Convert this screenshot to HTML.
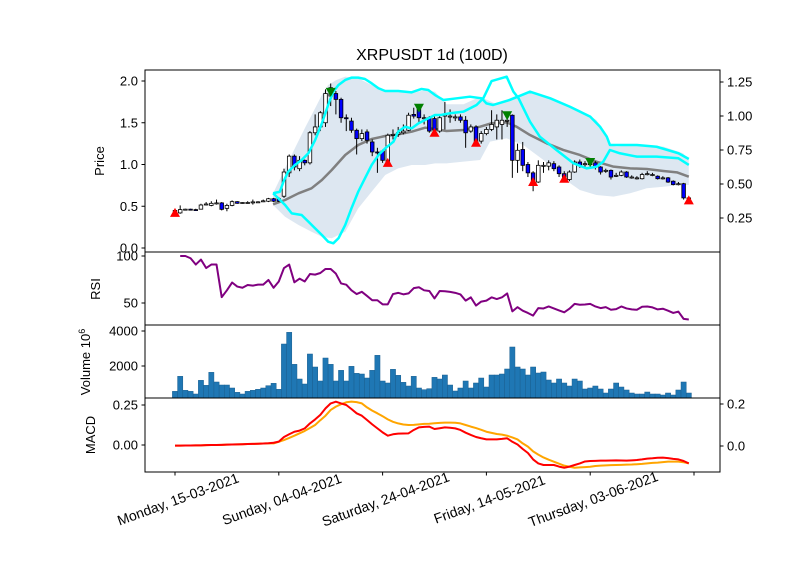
<!DOCTYPE html>
<html><head><meta charset="utf-8">
<style>
html,body{margin:0;padding:0;background:#fff;}
svg{display:block;font-family:"Liberation Sans",sans-serif;}
</style></head>
<body>
<svg id="chart" width="800" height="575" viewBox="0 0 800 575" xmlns="http://www.w3.org/2000/svg">
<defs>
<clipPath id="cpMain"><rect x="145" y="70" width="575" height="182"/></clipPath>
<clipPath id="cpVol"><rect x="145" y="325" width="575" height="73"/></clipPath>
<clipPath id="cpMacd"><rect x="145" y="398" width="575" height="74"/></clipPath>
</defs>
<rect x="0" y="0" width="800" height="575" fill="#fff"/>
<text x="432" y="60" font-size="16" text-anchor="middle">XRPUSDT 1d (100D)</text>
<g id="gMain" clip-path="url(#cpMain)"></g>
<g id="gRsi"></g>
<g id="gVol" clip-path="url(#cpVol)"></g>
<g id="gMacd" clip-path="url(#cpMacd)"></g>
<g id="gAxes"></g>
</svg>
<script>
// ---- data ----
const dates = ["Monday, 15-03-2021","Sunday, 04-04-2021","Saturday, 24-04-2021","Friday, 14-05-2021","Thursday, 03-06-2021",""];
const opens  = [0.44,0.42,0.46,0.465,0.46,0.465,0.52,0.51,0.535,0.54,0.475,0.51,0.555,0.54,0.543,0.55,0.55,0.563,0.56,0.59,
0.59,0.62,0.9,1.1,0.95,1.05,1.02,1.38,1.45,1.5,1.82,1.85,1.78,1.56,1.52,1.41,1.31,1.39,1.27,1.15,
1.16,1.04,1.35,1.36,1.38,1.41,1.6,1.67,1.56,1.56,1.55,1.4,1.58,1.57,1.57,1.57,1.53,1.4,1.45,1.28,
1.37,1.42,1.45,1.48,1.52,1.59,1.05,1.18,1.0,0.9,0.79,0.98,0.98,1.01,0.97,0.89,0.82,0.91,1.03,1.0,
1.01,1.02,0.97,0.93,0.93,0.87,0.87,0.91,0.85,0.84,0.83,0.89,0.88,0.86,0.84,0.84,0.8,0.77,0.77,0.6];
const closes = [0.45,0.46,0.465,0.46,0.455,0.515,0.527,0.535,0.54,0.463,0.51,0.555,0.535,0.545,0.545,0.552,0.553,0.565,0.59,0.56,
0.56,0.91,1.1,0.97,1.05,1.02,1.38,1.45,1.62,1.85,1.92,1.78,1.56,1.55,1.41,1.31,1.37,1.29,1.15,1.14,
1.05,1.35,1.36,1.38,1.4,1.59,1.58,1.56,1.56,1.4,1.41,1.56,1.6,1.58,1.57,1.53,1.38,1.45,1.27,1.37,
1.42,1.48,1.53,1.53,1.53,1.05,1.17,0.99,0.9,0.78,0.99,0.99,1.02,0.95,0.89,0.81,0.91,1.03,0.99,1.01,
1.0,0.97,0.91,0.93,0.85,0.87,0.91,0.85,0.85,0.84,0.88,0.89,0.88,0.83,0.84,0.79,0.76,0.77,0.6,0.59];
const highs  = [0.47,0.51,0.47,0.47,0.47,0.53,0.55,0.56,0.58,0.55,0.53,0.57,0.56,0.55,0.56,0.58,0.56,0.58,0.6,0.6,
0.61,0.95,1.12,1.12,1.1,1.06,1.4,1.6,1.64,1.9,1.97,1.88,1.8,1.6,1.56,1.43,1.42,1.42,1.3,1.2,
1.18,1.37,1.42,1.45,1.48,1.62,1.68,1.7,1.6,1.58,1.6,1.6,1.75,1.66,1.6,1.6,1.58,1.48,1.47,1.4,
1.45,1.65,1.6,1.65,1.6,1.6,1.25,1.27,1.03,0.92,1.05,1.03,1.05,1.04,0.99,0.92,0.93,1.05,1.06,1.04,
1.05,1.04,0.98,0.95,0.94,0.9,0.93,0.92,0.87,0.86,0.9,0.92,0.9,0.87,0.86,0.85,0.81,0.79,0.78,0.61];
const lows   = [0.42,0.41,0.455,0.45,0.45,0.46,0.51,0.5,0.52,0.45,0.44,0.5,0.53,0.53,0.53,0.52,0.54,0.55,0.55,0.55,
0.55,0.6,0.85,0.93,0.92,0.99,1.0,1.35,1.4,1.45,1.7,1.6,1.5,1.4,1.38,1.12,1.28,1.25,1.1,0.9,
1.02,1.02,1.3,1.33,1.36,1.4,1.55,1.5,1.48,1.38,1.38,1.38,1.42,1.5,1.52,1.5,1.2,1.38,1.23,1.25,
1.35,1.4,1.3,1.3,1.45,0.84,0.9,0.92,0.85,0.68,0.78,0.9,0.93,0.92,0.85,0.8,0.8,0.9,0.96,0.97,
0.97,0.94,0.88,0.9,0.82,0.85,0.86,0.84,0.83,0.82,0.82,0.87,0.86,0.82,0.82,0.78,0.75,0.75,0.58,0.57];
const volumes = [552,1410,610,552,400,1181,895,1638,1086,914,914,743,495,400,552,610,667,743,876,1010,
667,3257,3924,2095,1257,971,2686,1943,1143,2457,2095,1143,1752,1143,1981,1581,1543,1314,1752,2610,
1143,1029,1810,1467,1067,857,1410,743,648,705,1352,1257,1486,914,571,743,1143,743,1029,1314,
800,1486,1486,1543,1829,3086,1943,1829,1486,1943,1600,1657,1200,1029,1257,1029,857,1257,1143,686,
743,857,686,457,686,1029,800,629,457,400,400,514,400,400,343,457,343,629,1086,457];
const rsiStart = 1;
const rsiValues = [100,100,97.6,90.9,96.2,87.2,90.9,90.9,56.2,63.5,71.8,67.5,66.2,69.2,68.5,69.5,69.5,74.5,66.2,72.9,
87.2,90.9,72.0,75.9,72.9,80.8,80.2,81.9,86.2,86.2,81.2,70.8,69.5,63.5,59.5,61.9,57.5,52.9,52.9,48.6,
48.6,59.5,60.8,59.2,60.2,65.8,66.8,63.5,
62.8,54.9,62.8,62.5,61.8,60.8,59.1,52.5,56,47.3,51.5,52.5,56,54.2,56,60.2,41.1,45.6,41.8,39.4,
36.6,44.6,44.2,46.3,44.2,42.1,40.1,43.9,49.1,48.1,48.4,49.1,46.3,44.6,45.6,42.8,43.5,46.3,44.2,43.2,
42.8,46,46.3,45.3,43.2,43.9,41.8,39.4,40.8,33.1,32.5];
const macdValues = [-0.004,-0.004,-0.003,-0.003,-0.002,-0.002,-0.001,0,0,0.001,0.002,0.003,0.004,0.005,0.006,0.007,0.008,0.009,0.011,0.014,
0.021,0.05,0.067,0.083,0.09,0.104,0.135,0.16,0.188,0.229,0.26,0.271,0.26,0.25,0.225,0.198,0.183,0.156,0.129,0.104,
0.079,0.058,0.067,0.071,0.072,0.073,0.094,0.11,0.113,0.115,0.1,0.105,0.11,0.108,0.104,0.094,0.077,0.063,0.05,0.042,
0.035,0.035,0.035,0.038,0.042,0.02,0.003,-0.025,-0.05,-0.09,-0.115,-0.125,-0.125,-0.125,-0.135,-0.142,-0.135,-0.125,-0.115,-0.103,
-0.1,-0.099,-0.098,-0.098,-0.097,-0.096,-0.097,-0.098,-0.096,-0.094,-0.09,-0.085,-0.083,-0.08,-0.079,-0.082,-0.087,-0.09,-0.1,-0.115];
const signalValues = [-0.004,-0.004,-0.003,-0.003,-0.002,-0.002,-0.001,0,0,0.001,0.002,0.003,0.004,0.005,0.006,0.007,0.008,0.009,0.01,0.01,
0.02,0.031,0.044,0.058,0.073,0.088,0.106,0.125,0.155,0.183,0.219,0.24,0.255,0.267,0.271,0.268,0.26,0.235,0.215,0.198,
0.18,0.16,0.145,0.135,0.128,0.125,0.126,0.129,0.132,0.133,0.136,0.138,0.14,0.14,0.139,0.135,0.125,0.115,0.106,0.095,
0.083,0.076,0.069,0.065,0.058,0.047,0.035,0.01,-0.01,-0.04,-0.06,-0.078,-0.092,-0.104,-0.117,-0.129,-0.136,-0.142,-0.14,-0.138,
-0.136,-0.131,-0.129,-0.127,-0.126,-0.125,-0.124,-0.123,-0.122,-0.12,-0.118,-0.115,-0.112,-0.11,-0.107,-0.104,-0.104,-0.104,-0.108,-0.115];
const smaIdx = [18.9,21.2,23.8,26.3,28.3,30.2,32.8,35.3,37.9,40.5,43,45.6,48.2,50.1,52.3,55.6,58.8,61,63.9,65.8,68.4,71.6,74.8,78,81.2,84.5,87.7,90.9,94.1,96.7,99];
const smaVal = [0.523,0.575,0.655,0.715,0.814,0.934,1.114,1.234,1.305,1.341,1.361,1.393,1.441,1.425,1.401,1.413,1.453,1.494,1.505,1.453,1.353,1.254,1.174,1.114,1.034,0.974,0.954,0.946,0.922,0.906,0.854];
const bandTopIdx = [18.9,21.2,23.1,25,27,28.3,29.5,31.1,32.8,35.3,37.9,39.8,43,45.6,48.2,50.1,52.3,55.6,58.8,62,65.2,68.4,71.6,74.8,78,81.2,83.2,83.8,85.1,87.7,94.1,97.9,99];
const bandTopVal = [0.655,0.954,1.194,1.433,1.673,1.832,1.952,2.012,2.052,2.032,1.952,1.892,1.872,1.852,1.892,1.872,1.721,1.721,1.812,1.721,1.812,1.872,1.812,1.733,1.653,1.533,1.353,1.234,1.214,1.234,1.214,1.134,1.054];
const bandBotIdx = [18.9,21.2,23.8,26.3,28.3,30.2,32.8,35.3,37.9,40.5,43,45.6,48.2,50.1,52.3,55.6,58.8,60.7,63.9,67.1,69.7,72.3,74.8,78,81.2,84.5,87.7,90.9,94.1,97.3,99];
const bandBotVal = [0.515,0.375,0.275,0.195,0.135,0.116,0.195,0.475,0.675,0.874,0.954,0.994,0.994,1.014,1.014,1.034,1.054,1.274,1.313,1.234,1.114,0.994,0.834,0.695,0.635,0.615,0.655,0.715,0.734,0.754,0.754];
const cyanAIdx = [18.9,20.2,20.9,21.8,23.1,24.4,25.7,27,28.3,29.5,30.5,31.5,32.8,34,35.3,36.6,37.9,39.2,40.5,43,45.6,47.5,48.8,50.1,51.7,54.3,56.8,59.1,60,61.3,64.5,68.4,72.3,76.1,80,81.9,83.2,83.8,85.7,89,92.8,97,99];
const cyanAVal = [0.432,0.443,0.517,0.59,0.64,0.676,0.726,0.823,0.946,1.081,1.179,1.228,1.265,1.282,1.282,1.272,1.24,1.204,1.184,1.184,1.174,1.199,1.191,1.154,1.118,1.13,1.142,1.13,1.093,1.081,1.118,1.179,1.13,1.068,0.995,0.921,0.848,0.787,0.787,0.787,0.774,0.726,0.684];
const cyanBIdx = [18.9,19.9,21.2,22.5,24.4,25.7,27,28.3,29.5,30.5,31.5,32.8,34,35.3,36.6,37.9,39.2,40.5,42.1,43,44.3,45.6,46.9,48.2,50.1,51.1,53,55.6,58.1,59.4,61,63.9,65.2,66.2,68.4,70.3,73.5,76.8,79.3,81.2,82.5,83.8,85.7,89,92.8,97,99];
const cyanBVal = [0.432,0.395,0.346,0.284,0.272,0.223,0.174,0.125,0.076,0.064,0.101,0.199,0.321,0.443,0.542,0.64,0.713,0.762,0.811,0.885,0.921,0.909,0.946,0.971,1.007,1.007,1.02,1.032,1.081,1.13,1.257,1.289,1.179,1.13,0.958,0.848,0.75,0.652,0.615,0.627,0.664,0.75,0.726,0.701,0.701,0.689,0.64];
const buyIdx = [0,41,50,58,69,75,99];
const buyPrice = [0.42,1.02,1.38,1.26,0.79,0.83,0.57];
const sellIdx = [30,47,64,80];
const sellPrice = [1.87,1.68,1.59,1.03];
const priceTicks = [0,0.5,1.0,1.5,2.0];
const priceTickLabels = ["0.0","0.5","1.0","1.5","2.0"];
const rightTicks = [0.25,0.5,0.75,1.0,1.25];
const rightTickLabels = ["0.25","0.50","0.75","1.00","1.25"];
const rsiTicks = [50,100];
const volTicks = [2000,4000];
const macdTicks = [0,0.25];
const macdTickLabels = ["0.00","0.25"];
const macdRightTicks = [0,0.2];
const macdRightLabels = ["0.0","0.2"];

// ---- axis functions ----
const NS = "http://www.w3.org/2000/svg";
const xOf = i => 175 + 5.19 * i;
const yPrice = p => 248 - p * 83.5;
const yRight = v => 218 - (v - 0.25) * 136;
const yRsi = r => 303 - (r - 50) * 0.94;
const yVol = v => 401 - v * 0.0175;
const yMacd = v => 445 - v * 160;
const yMacdR = v => 446 - v * 210;

function mk(tag, attrs, parent) {
  const el = document.createElementNS(NS, tag);
  for (const k in attrs) el.setAttribute(k, attrs[k]);
  parent.appendChild(el);
  return el;
}
const gMain = document.getElementById('gMain');
const gRsi = document.getElementById('gRsi');
const gVol = document.getElementById('gVol');
const gMacd = document.getElementById('gMacd');
const gAxes = document.getElementById('gAxes');

function ptsPairs(idx, vals, yf) { return idx.map((i, k) => xOf(i).toFixed(2) + ',' + yf(vals[k]).toFixed(2)).join(' '); }
function ptsSeries(vals, start, yf) { return vals.map((v, k) => xOf(start + k).toFixed(2) + ',' + yf(v).toFixed(2)).join(' '); }

let bandPts = ptsPairs(bandTopIdx, bandTopVal, yPrice) + ' ' +
  bandBotIdx.map((i, k) => [i, bandBotVal[k]]).reverse().map(p => xOf(p[0]).toFixed(2) + ',' + yPrice(p[1]).toFixed(2)).join(' ');
let band = mk('polygon', {points: bandPts, fill: '#dde7f1', stroke: 'none'}, gMain);



let sma = mk('polyline', {points: ptsPairs(smaIdx, smaVal, yPrice), fill: 'none', stroke: '#808080', 'stroke-width': 2.5, 'stroke-linejoin': 'round'}, gMain);



for (let i = 0; i < closes.length; i++) {
  const g = mk('g', {}, gMain);
  
  
  const x = xOf(i);
  mk('line', {x1: x, x2: x, y1: yPrice(highs[i]), y2: yPrice(lows[i]), stroke: '#000', 'stroke-width': 1}, g);
  const up = closes[i] >= opens[i];
  const top = yPrice(Math.max(opens[i], closes[i]));
  const h = Math.max(1, Math.abs(yPrice(opens[i]) - yPrice(closes[i])));
  mk('rect', {x: x - 1.8, y: top, width: 3.6, height: h, fill: up ? '#ffffff' : '#0000ff', stroke: '#000', 'stroke-width': 0.8}, g);
}

let ca = mk('polyline', {points: ptsPairs(cyanAIdx, cyanAVal, yRight), fill: 'none', stroke: '#00ffff', 'stroke-width': 2.5, 'stroke-linejoin': 'round'}, gMain);


let cb = mk('polyline', {points: ptsPairs(cyanBIdx, cyanBVal, yRight), fill: 'none', stroke: '#00ffff', 'stroke-width': 2.5, 'stroke-linejoin': 'round'}, gMain);



buyIdx.forEach((i, k) => {
  const x = xOf(i), y = yPrice(buyPrice[k]);
  const m = mk('polygon', {points: `${x-5},${y+4} ${x+5},${y+4} ${x},${y-5}`, fill: '#ff0000'}, gMain);
  
  
});
sellIdx.forEach((i, k) => {
  const x = xOf(i), y = yPrice(sellPrice[k]);
  const m = mk('polygon', {points: `${x-5},${y-4} ${x+5},${y-4} ${x},${y+5}`, fill: '#008000'}, gMain);
  
  
});

let rsi = mk('polyline', {points: ptsSeries(rsiValues, rsiStart, yRsi), fill: 'none', stroke: '#800080', 'stroke-width': 2, 'stroke-linejoin': 'round'}, gRsi);



volumes.forEach((v, i) => {
  const x = xOf(i);
  const b = mk('rect', {x: x - 2.6, y: yVol(v), width: 5.2, height: 401 - yVol(v), fill: '#1f77b4', stroke: '#1a5f90', 'stroke-width': 0.5}, gVol);
  
  
});

let sig = mk('polyline', {points: ptsSeries(signalValues, 0, yMacd), fill: 'none', stroke: '#ffa500', 'stroke-width': 2, 'stroke-linejoin': 'round'}, gMacd);


let mac = mk('polyline', {points: ptsSeries(macdValues, 0, yMacd), fill: 'none', stroke: '#ff0000', 'stroke-width': 2, 'stroke-linejoin': 'round'}, gMacd);



const panels = [[70, 252, 'price-panel'], [252, 325, 'rsi-panel'], [325, 398, 'volume-panel'], [398, 472, 'macd-panel']];
panels.forEach(p => {
  const r = mk('rect', {x: 145, y: p[0], width: 575, height: p[1] - p[0], fill: 'none', stroke: '#000', 'stroke-width': 1}, gAxes);
  
  
});
function leftTick(y, label, name) {
  mk('line', {x1: 141.5, x2: 145, y1: y, y2: y, stroke: '#000', 'stroke-width': 1}, gAxes);
  const t = mk('text', {x: 138, y: y + 4.5, 'font-size': 13, 'text-anchor': 'end'}, gAxes);
  t.textContent = label;
  
  
}
function rightTick(y, label, name) {
  mk('line', {x1: 720, x2: 723.5, y1: y, y2: y, stroke: '#000', 'stroke-width': 1}, gAxes);
  const t = mk('text', {x: 727, y: y + 4.5, 'font-size': 13, 'text-anchor': 'start'}, gAxes);
  t.textContent = label;
  
  
}
priceTicks.forEach((v, k) => leftTick(yPrice(v), priceTickLabels[k], 'price-tick-label'));
rightTicks.forEach((v, k) => rightTick(yRight(v), rightTickLabels[k], 'right-axis-tick-label'));
rsiTicks.forEach(v => leftTick(yRsi(v), String(v), 'rsi-tick-label'));
volTicks.forEach(v => leftTick(yVol(v), String(v), 'volume-tick-label'));
macdTicks.forEach((v, k) => leftTick(yMacd(v), macdTickLabels[k], 'macd-tick-label'));
macdRightTicks.forEach((v, k) => rightTick(yMacdR(v), macdRightLabels[k], 'macd-right-tick-label'));

dates.forEach((d, k) => {
  const x = xOf(k * 20);
  mk('line', {x1: x, x2: x, y1: 472, y2: 475.5, stroke: '#000', 'stroke-width': 1}, gAxes);
  if (d) {
    const cx = x + 3, cy = 499;
    const t = mk('text', {x: cx, y: cy + 5, 'font-size': 14, 'text-anchor': 'middle', transform: `rotate(-20 ${cx} ${cy})`}, gAxes);
    t.textContent = d;
    
    
  }
});

function yTitle(x, y, txt, name, sup) {
  const t = mk('text', {x: x, y: y, 'font-size': 13, 'text-anchor': 'middle', transform: `rotate(-90 ${x} ${y})`}, gAxes);
  t.textContent = txt;
  if (sup) {
    const s = mk('tspan', {dy: -5, 'font-size': 9}, t);
    s.textContent = sup;
  }
  
  
}
yTitle(104, 161, 'Price', 'price-axis-title');
yTitle(100, 289, 'RSI', 'rsi-axis-title');
yTitle(90, 362, 'Volume  10', 'volume-axis-title', '6');
yTitle(95, 435, 'MACD', 'macd-axis-title');
</script>
</body></html>
